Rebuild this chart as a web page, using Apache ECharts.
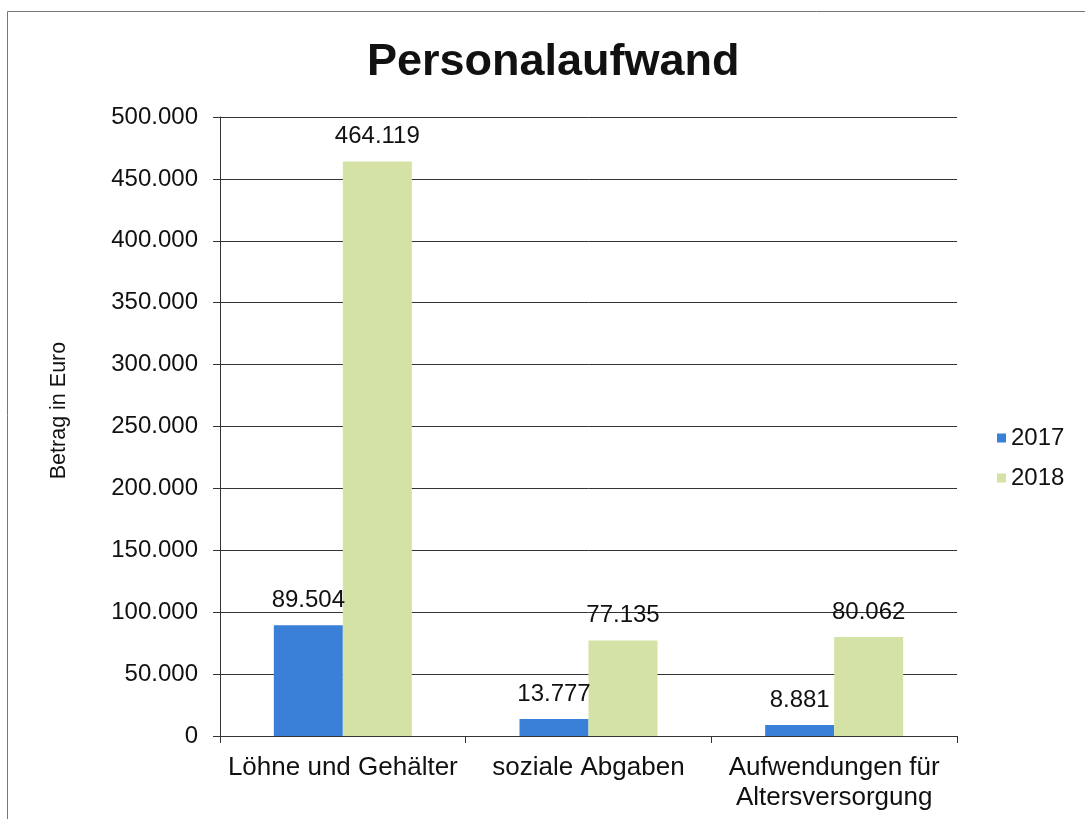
<!DOCTYPE html>
<html>
<head>
<meta charset="utf-8">
<script src="https://cdn.jsdelivr.net/npm/echarts@6/dist/echarts.min.js"></script>
<style>
html,body{margin:0;padding:0;background:#fff;}
#chart{width:1085px;height:819px;}
</style>
</head>
<body>
<div id="chart"></div>
<script>
const title = 'Personalaufwand';
const categories = ['Löhne und Gehälter', 'soziale Abgaben', 'Aufwendungen für\nAltersversorgung'];
const seriesNames = ['2017', '2018'];
const values2017 = [89504, 13777, 8881];
const values2018 = [464119, 77135, 80062];
const yAxisName = 'Betrag in Euro';

const fmt = v => String(Math.round(v)).replace(/\B(?=(\d{3})+(?!\d))/g, '.');
const FONT = '"Liberation Sans", Arial, sans-serif';

const chart = echarts.init(document.getElementById('chart'));
chart.setOption({
  backgroundColor: '#ffffff',
  animation: false,
  textStyle: { fontFamily: FONT, color: '#111' },
  title: {
    text: title, left: 362, top: 35,
    textStyle: { fontFamily: FONT, fontSize: 45, fontWeight: 'bold', color: '#111' }
  },
  legend: {
    orient: 'vertical', left: 992, top: 421,
    itemWidth: 9, itemHeight: 9, itemGap: 16,
    icon: 'rect',
    textStyle: { fontFamily: FONT, fontSize: 24, color: '#111', padding: [0, 0, 0, 0] },
    data: seriesNames
  },
  graphic: [{
    type: 'rect', shape: { x: 7.5, y: 11.5, width: 1200, height: 1000 },
    style: { fill: 'none', stroke: '#777', lineWidth: 1 }, silent: true, z: -1
  }],
  grid: { left: 220, right: 128, top: 117, bottom: 83, containLabel: false },
  xAxis: {
    type: 'category', data: categories,
    axisLine: { lineStyle: { color: '#333', width: 1 } },
    axisTick: { show: true, length: 7, lineStyle: { color: '#333' } },
    axisLabel: { fontFamily: FONT, fontSize: 26, color: '#111', margin: 17, lineHeight: 30, interval: 0 }
  },
  yAxis: {
    type: 'value', min: 0, max: 500000, interval: 50000,
    name: yAxisName, nameLocation: 'middle', nameGap: 150, nameRotate: 90,
    nameTextStyle: { fontFamily: FONT, fontSize: 21.5, color: '#111', padding: [0, 0, 0, 32] },
    axisLine: { show: true, lineStyle: { color: '#333', width: 1 } },
    axisTick: { show: true, inside: false, length: 7, lineStyle: { color: '#333' } },
    splitLine: { show: true, lineStyle: { color: '#333', width: 1 } },
    axisLabel: { fontFamily: FONT, fontSize: 24, color: '#111', margin: 22, formatter: fmt }
  },
  series: [
    {
      name: seriesNames[0], type: 'bar', data: values2017,
      barWidth: 69, barGap: '0%',
      itemStyle: { color: '#3b80d8' },
      label: { show: true, position: 'top', distance: 13, fontFamily: FONT, fontSize: 24, color: '#111', formatter: p => fmt(p.value) }
    },
    {
      name: seriesNames[1], type: 'bar', data: values2018,
      barWidth: 69, barGap: '0%',
      itemStyle: { color: '#d4e3a5' },
      label: { show: true, position: 'top', distance: 13, fontFamily: FONT, fontSize: 24, color: '#111', formatter: p => fmt(p.value) }
    }
  ]
});
</script>
</body>
</html>
